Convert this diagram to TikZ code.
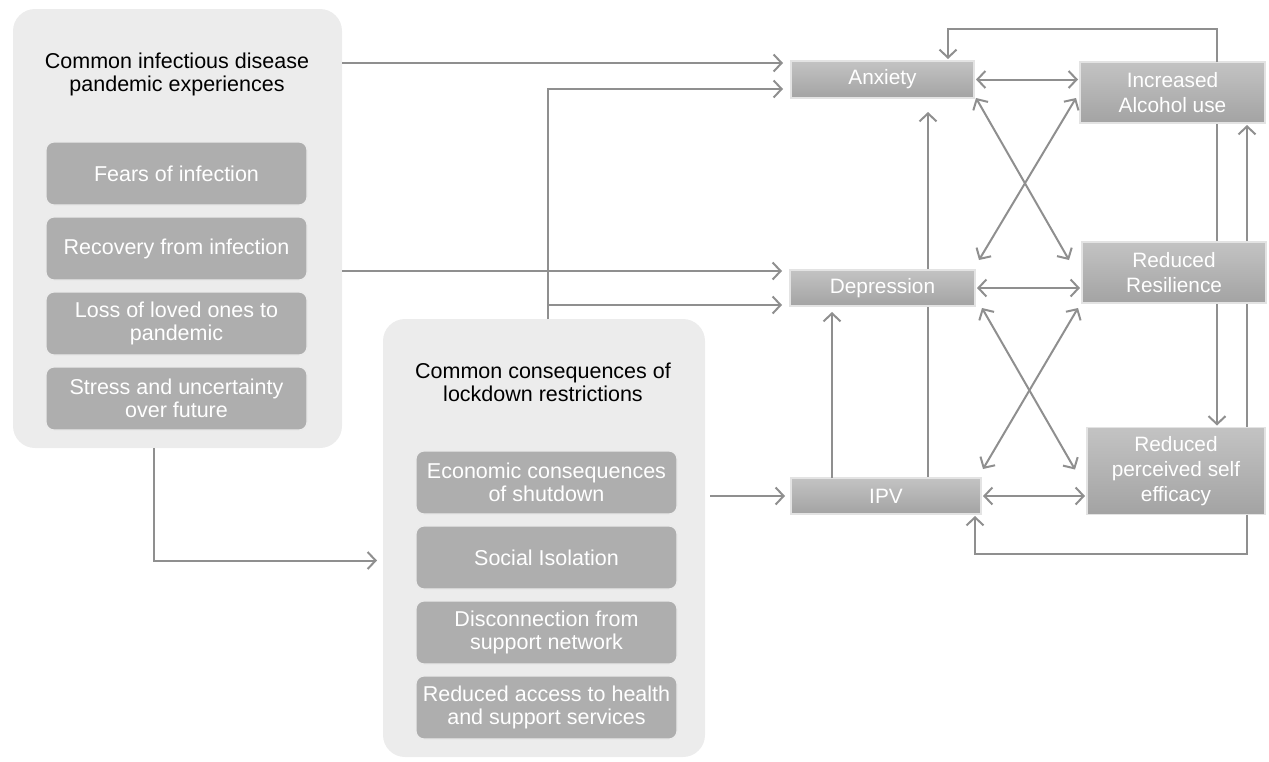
\documentclass[tikz,border=0pt]{standalone}
\usepackage{fontspec}
\setmainfont{Liberation Sans}
\usetikzlibrary{positioning, calc, arrows.meta, backgrounds}

\definecolor{panelbg}{HTML}{ECECEC}
\definecolor{itemfill}{HTML}{AEAEAE}
\definecolor{shadetop}{HTML}{C3C3C3}
\definecolor{shadebot}{HTML}{A3A3A3}
\definecolor{linegray}{HTML}{8F8F8F}

\tikzset{
  panel/.style={fill=panelbg, rounded corners=11pt, inner sep=0pt, outer sep=0pt},
  paneltitle/.style={align=center, text=black, font=\fontsize{10.75}{11.5}\selectfont},
  item/.style={fill=itemfill, draw=white!75!itemfill, line width=0.6pt, rounded corners=4pt,
    text=white, align=center, minimum width=130.5pt, minimum height=31.5pt,
    inner sep=0pt, outer sep=0pt, font=\fontsize{10.75}{11.5}\selectfont},
  outcome/.style={top color=shadetop, bottom color=shadebot, draw=white!70!shadebot,
    line width=0.6pt, text=white, align=center, inner sep=0pt, outer sep=0pt,
    font=\fontsize{10.4}{12.5}\selectfont},
  conn/.style={draw=linegray, line width=1pt, -{Straight Barb[length=4pt, width=8.5pt]}},
  dconn/.style={conn, {Straight Barb[length=4pt, width=8.5pt]}-{Straight Barb[length=4pt, width=8.5pt]}},
}

\begin{document}
\begin{tikzpicture}[x=0.5pt, y=-0.5pt]
  \useasboundingbox (0,0) rectangle (1269,761);

  % Pandemic experiences panel
  \node[panel, minimum width=164.5pt, minimum height=219.5pt] (cexp) at (177.5,228.5) {};
  \node[paneltitle] (cexptitle) at (177,74.5) {Common infectious disease\\pandemic experiences};
  \node[item] (exp1) at (176.5,173.5) {Fears of infection};
  \node[item, below=6pt of exp1] (exp2) {Recovery from infection};
  \node[item, below=6pt of exp2] (exp3) {Loss of loved ones to\\pandemic};
  \node[item, below=6pt of exp3] (exp4) {Stress and uncertainty\\over future};

  % Lockdown consequences panel
  \node[panel, minimum width=161pt, minimum height=219pt] (ccons) at (544,538) {};
  \node[paneltitle] (cconstitle) at (543,382.5) {Common consequences of\\lockdown restrictions};
  \node[item] (cons1) at (546.5,482.5) {Economic consequences\\of shutdown};
  \node[item, below=6pt of cons1] (cons2) {Social Isolation};
  \node[item, below=6pt of cons2] (cons3) {Disconnection from\\support network};
  \node[item, below=6pt of cons3] (cons4) {Reduced access to health\\and support services};

  % Outcomes
  \node[outcome, minimum width=91.5pt, minimum height=18.5pt] (anx) at (882.5,79.5) {Anxiety};
  \node[outcome, minimum width=92.5pt, minimum height=18pt] (dep) at (882.5,288) {Depression};
  \node[outcome, minimum width=95pt, minimum height=18pt] (ipv) at (886,496) {IPV};
  \node[outcome, minimum width=92.5pt, minimum height=30.5pt] (alc) at (1172.5,92.5) {Increased\\Alcohol use};
  \node[outcome, minimum width=92pt, minimum height=30.5pt] (res) at (1174,272.5) {Reduced\\Resilience};
  \node[outcome, minimum width=89pt, minimum height=43.5pt] (eff) at (1176,471) {Reduced\\perceived self\\efficacy};

  % Bend points
  \coordinate (split) at ($(ccons.north west)+(165,0)$);
  \coordinate (v1) at ($(ipv.north west)+(41,0)$);
  \coordinate (v2) at ($(ipv.north west)+(137,0)$);
  \coordinate (v3) at ($(alc.south west)+(137,0)$);
  \coordinate (v4) at ($(eff.north west)+(160,0)$);

  % Panels to outcomes
  \draw[conn, shorten >=4pt] ($(cexp.east |- anx.north)+(0,2)$) -- ($(anx.north west)+(0,2)$);
  \draw[conn, shorten >=4pt] ($(cexp.east |- dep.north)+(0,1)$) -- ($(dep.north west)+(0,1)$);
  \draw[conn, shorten >=4pt] (split) |- ($(anx.south west)+(0,-9)$);
  \draw[conn, shorten >=4pt] ($(split |- dep.south)+(0,-1)$) -- ($(dep.south west)+(0,-1)$);
  \draw[conn, shorten >=3pt] ($(cexp.south west)+(141,0)$) |- ($(ccons.west |- cons2)+(0,3)$);
  \draw[conn, shorten <=2.5pt, shorten >=3pt] (ccons.east |- ipv) -- (ipv.west);

  % Between outcomes
  \draw[dconn, shorten <=1pt, shorten >=1pt] (anx) -- (anx -| alc.west);
  \draw[dconn, shorten <=1pt, shorten >=1pt] (dep) -- (dep -| res.west);
  \draw[dconn, shorten <=1pt, shorten >=1pt] (ipv) -- (ipv -| eff.west);
  \draw[dconn] ($(anx.south east)+(2,0)$) -- ($(res.north west)+(-13,18)$);
  \draw[dconn] ($(alc.south west)+(-4,-25)$) -- ($(dep.north east)+(4,-10)$);
  \draw[dconn] ($(dep.south east)+(7,2)$) -- ($(eff.north west)+(-12,42)$);
  \draw[dconn] ($(res.south west)+(-4,5)$) -- ($(ipv.north east)+(2,-9)$);
  \draw[conn, shorten >=3pt] (v1) -- (v1 |- dep.south);
  \draw[conn, shorten >=1pt] (v3 |- alc.north) -- ++(0,-33) -| ($(anx.north west)+(157,0)$);
  \draw[conn, shorten >=1pt] (v4 |- eff.south) -- ++(0,39) -| ($(ipv.south west)+(184,0)$);
  \begin{scope}[on background layer]
    \draw[conn, shorten >=7pt] (v2) -- (v2 |- anx.south);
    \draw[conn, shorten >=1pt] (v3) -- (v3 |- eff.north);
    \draw[conn, shorten >=1pt] (v4) -- (v4 |- alc.south);
  \end{scope}
\end{tikzpicture}
\end{document}
